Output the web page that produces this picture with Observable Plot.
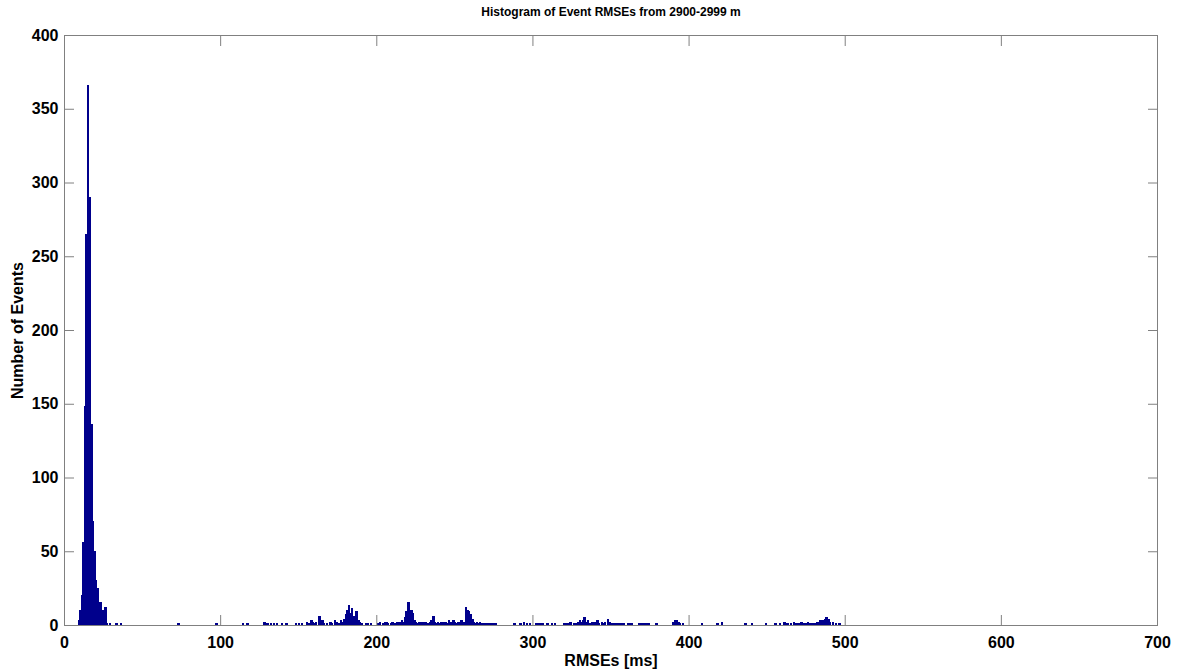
<!DOCTYPE html>
<html>
<head>
<meta charset="utf-8">
<script src="https://cdn.jsdelivr.net/npm/d3@7"></script>
<script src="https://cdn.jsdelivr.net/npm/@observablehq/plot@0.6"></script>
<style>
  html, body { margin: 0; padding: 0; background: #fff; }
  #chart svg { display: block; }
</style>
</head>
<body>
<div id="chart"></div>
<script>
const titleText = "Histogram of Event RMSEs from 2900-2999 m";
const xLabel = "RMSEs [ms]";
const yLabel = "Number of Events";
const xTicks = [0, 100, 200, 300, 400, 500, 600, 700];
const yTicks = [0, 50, 100, 150, 200, 250, 300, 350, 400];

// histogram bins (bin start in ms, width 1 ms) and counts
const binStart = [
  9,10,11,12,13,14,15,16,17,18,19,20,21,22,23,24,25,26,27,29,33,36,73,97,114,117,
  128,130,132,134,136,139,142,148,150,152,155,156,158,159,160,161,163,164,165,166,168,170,171,173,174,176,177,178,179,180,181,182,183,184,185,186,187,188,189,190,193,194,196,
  201,202,204,205,206,207,209,210,211,213,214,215,216,217,218,219,220,221,222,223,224,225,226,227,228,229,230,231,233,234,235,236,237,238,239,240,241,242,243,244,245,246,247,248,249,250,251,252,253,254,255,256,257,258,259,260,261,262,263,264,265,266,267,268,270,272,274,276,
  288,292,294,296,298,302,304,306,309,312,314,320,322,324,326,327,329,330,331,332,333,334,335,336,338,339,340,341,342,344,345,346,348,349,350,352,354,356,358,361,363,368,370,372,374,379,390,391,392,393,394,396,
  408,418,421,436,440,449,455,458,461,463,465,467,468,470,472,473,475,476,477,479,480,482,483,484,485,486,487,488,489,490,492,494,496
];
const counts = [
  3,10,20,56,148,265,366,290,136,70,50,30,25,12,15,10,5,12,1,1,1,1,1,1,1,1,
  2,1,1,1,1,1,1,1,1,1,2,1,3,2,1,2,6,2,3,1,1,2,1,3,2,1,3,2,4,7,10,13,8,11,6,4,9,3,2,1,1,1,1,
  1,2,1,2,2,1,1,2,1,2,1,2,3,2,5,9,15,10,10,8,3,2,1,2,1,2,1,2,1,2,3,6,2,1,2,1,2,2,1,2,1,3,2,1,3,2,1,2,1,3,2,2,12,10,9,7,4,2,1,2,1,2,1,1,1,1,1,1,
  1,1,2,1,1,1,1,1,1,1,1,1,1,2,1,1,2,3,2,3,5,2,3,1,2,1,2,3,1,2,1,2,4,2,1,1,1,1,1,1,1,1,1,1,1,1,2,3,3,2,1,1,
  1,1,2,1,1,1,1,1,2,1,1,2,1,1,2,1,1,2,1,1,1,2,2,3,2,3,4,5,4,2,2,1,1
];

const bins = binStart.map((x, i) => ({x0: x, x1: x + 1, count: counts[i]}));

const axisGray = "#808080";
const barColor = "#00008c";

const chart = Plot.plot({
  width: 1177,
  height: 672,
  marginLeft: 64,
  marginRight: 20,
  marginTop: 35,
  marginBottom: 47,
  style: {fontFamily: "'Liberation Sans', Arial, sans-serif", background: "#fff", color: "#000"},
  x: {domain: [0, 700]},
  y: {domain: [0, 400]},
  marks: [
    Plot.rectY(bins, {x1: "x0", x2: "x1", y: "count", inset: 0, fill: barColor, stroke: barColor, strokeWidth: 1, shapeRendering: "crispEdges"}),
    // inward ticks on all four sides
    Plot.axisX(xTicks, {anchor: "bottom", tickSize: -10, stroke: axisGray, text: null, label: null}),
    Plot.axisX(xTicks, {anchor: "top", tickSize: -10, stroke: axisGray, text: null, label: null}),
    Plot.axisY(yTicks, {anchor: "left", tickSize: -10, stroke: axisGray, text: null, label: null}),
    Plot.axisY(yTicks, {anchor: "right", tickSize: -10, stroke: axisGray, text: null, label: null}),
    // tick labels + axis titles
    Plot.axisX(xTicks, {anchor: "bottom", tickSize: 0, tickPadding: 11, fontSize: 16, fontWeight: "bold", fill: "#000",
      label: xLabel, labelAnchor: "center", labelOffset: 40, labelArrow: "none"}),
    Plot.axisY(yTicks, {anchor: "left", tickSize: 0, tickPadding: 6, fontSize: 16, fontWeight: "bold", fill: "#000",
      label: yLabel, labelAnchor: "center", labelOffset: 53, labelArrow: "none"}),
    Plot.frame({stroke: axisGray}),
    Plot.text([titleText], {frameAnchor: "top", dy: -23, lineAnchor: "middle", fontSize: 12, fontWeight: "bold", fill: "#000"})
  ]
});
document.getElementById("chart").appendChild(chart);
</script>
</body>
</html>
